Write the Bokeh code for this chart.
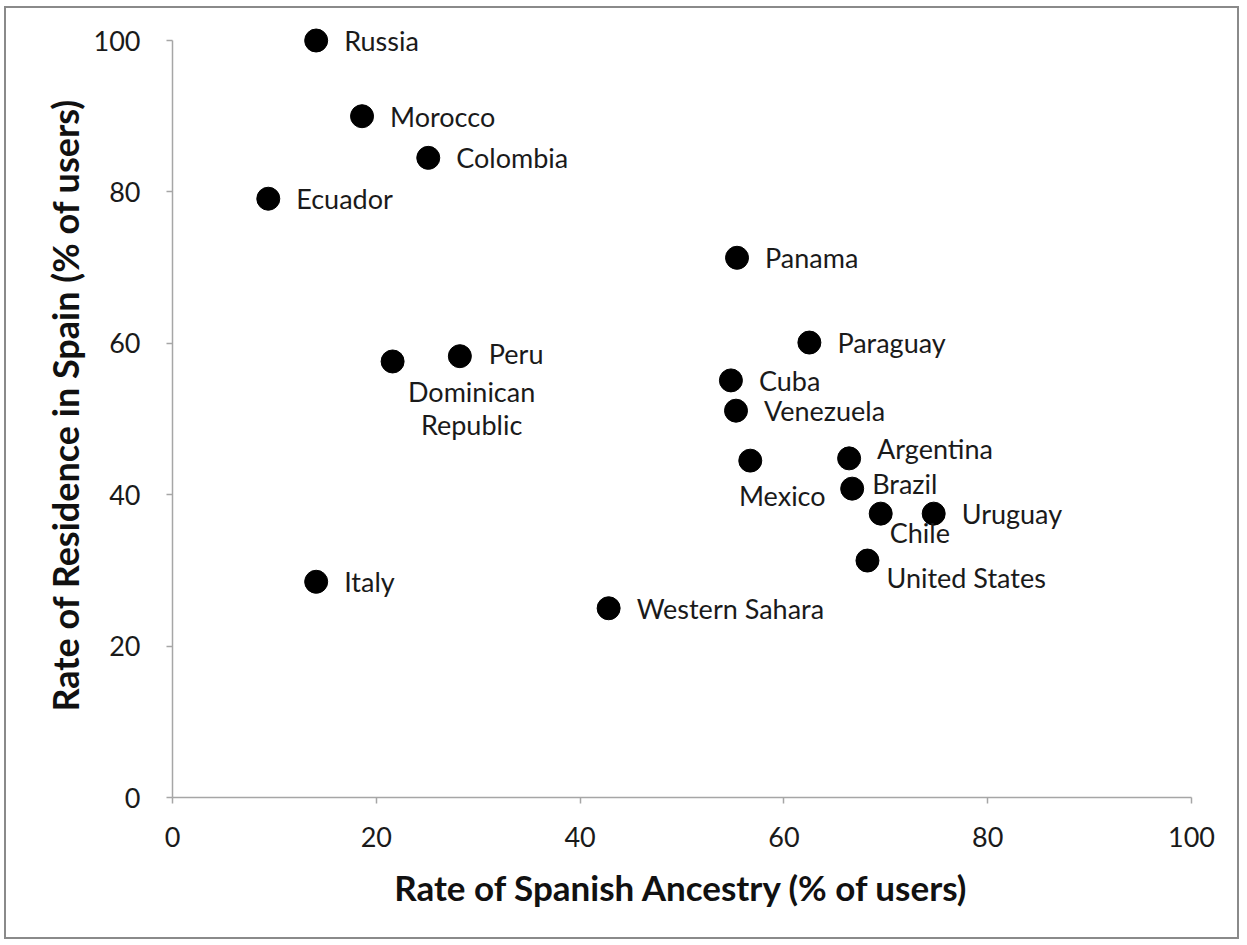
from bokeh.plotting import figure
from bokeh.models import ColumnDataSource, Range1d, FixedTicker
from bokeh.core.properties import value
from bokeh.embed import file_html
from bokeh.resources import INLINE

# ---- data ----
countries = ["Russia", "Morocco", "Colombia", "Ecuador", "Panama", "Paraguay",
             "Dominican\nRepublic", "Peru", "Cuba", "Venezuela", "Mexico",
             "Argentina", "Brazil", "Chile", "Uruguay", "United States",
             "Italy", "Western Sahara"]
ancestry = [14.1, 18.6, 25.1, 9.4, 55.4, 62.5, 21.6, 28.2, 54.8, 55.3, 56.7,
            66.4, 66.7, 69.5, 74.7, 68.2, 14.1, 42.8]
residence = [100.0, 90.0, 84.5, 79.1, 71.3, 60.1, 57.6, 58.3, 55.1, 51.1, 44.5,
             44.8, 40.8, 37.5, 37.5, 31.3, 28.5, 25.0]
tick_values = [0, 20, 40, 60, 80, 100]

# ---- label placement (screen px offsets, style only) ----
place = {
    "Dominican\nRepublic": (79, 47, "center"),
    "Mexico": (32, 35, "center"),
    "Chile": (9, 19, "left"),
    "United States": (19, 17, "left"),
    "Argentina": (28, -10, "left"),
    "Brazil": (20, -5, "left"),
    "Peru": (29, -3, "left"),
}
xo, yo, al = [], [], []
for c in countries:
    dx, dy, a = place.get(c, (28, 0, "left"))
    xo.append(dx); yo.append(dy); al.append(a)

src = ColumnDataSource(dict(x=ancestry, y=residence, name=countries,
                            xo=xo, yo=yo, al=al))

FONT = "Lato"
W, H = 1235, 933
p = figure(width=W, height=H, output_backend="svg", toolbar_location=None,
           x_range=Range1d(0, 100), y_range=Range1d(0, 103.7),
           min_border_left=166, min_border_right=50, min_border_top=4,
           min_border_bottom=144)
p.styles = {"border": "2px solid #8a8a8a", "margin": "6px 0 0 4px"}
p.outline_line_color = None
p.xgrid.visible = False
p.ygrid.visible = False
p.background_fill_color = "white"
p.border_fill_color = "white"

for ax in (p.xaxis[0], p.yaxis[0]):
    ax.bounds = (0, 100)
    ax.ticker = FixedTicker(ticks=tick_values)
    ax.axis_line_color = "#a6a6a6"
    ax.axis_line_width = 1.5
    ax.major_tick_line_color = "#a6a6a6"
    ax.major_tick_line_width = 1.5
    ax.major_tick_out = 6
    ax.major_tick_in = 0
    ax.minor_tick_line_color = None
    ax.major_label_text_font = FONT
    ax.major_label_text_font_size = "27px"
    ax.major_label_text_color = "#1a1a1a"
    ax.axis_label_text_font = FONT
    ax.axis_label_text_font_style = "bold"
    ax.axis_label_text_color = "#111111"

p.xaxis.axis_label_text_font_size = "35px"
p.yaxis.axis_label_text_font_size = "36px"
p.xaxis.axis_label = "Rate of Spanish Ancestry (% of users)"
p.yaxis.axis_label = "Rate of Residence in Spain (% of users)"
p.xaxis.major_label_standoff = 23
p.yaxis.major_label_standoff = 26
p.xaxis.axis_label_standoff = 16
p.yaxis.axis_label_standoff = 4

p.scatter("x", "y", source=src, size=23, fill_color="black", line_color="black")
p.text("x", "y", text="name", source=src, x_offset="xo", y_offset="yo",
       text_align="al", text_baseline="middle", text_font=value(FONT),
       text_font_size="27px", text_color="#1a1a1a", text_line_height=1.0)

open("out.html", "w").write(file_html(p, INLINE))
